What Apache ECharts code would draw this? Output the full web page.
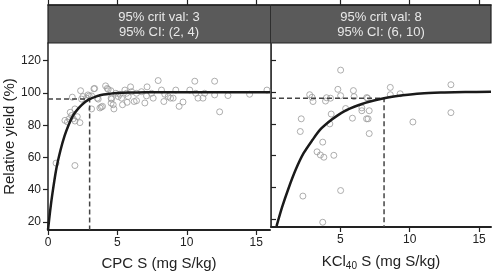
<!DOCTYPE html>
<html>
<head>
<meta charset="utf-8">
<script src="https://cdn.jsdelivr.net/npm/echarts@6/dist/echarts.min.js"></script>
<style>
  html, body { margin: 0; padding: 0; background: #fff; }
  #chart { width: 500px; height: 276px; }
</style>
</head>
<body>
<div id="chart"></div>
<script>
// ---- data ----
const panelTitles = ["95% crit val: 3\n95% CI: (2, 4)", "95% crit val: 8\n95% CI: (6, 10)"];
const yTicks = [20, 40, 60, 80, 100, 120];
const xTicksLeft = [0, 5, 10, 15];
const xTicksRight = [5, 10, 15];

// critical values (x) and the relative yield level they refer to
const critX = [3, 8.15];
const critY = [96.2, 96.2];

// CPC S observations
const cpcX = [0.58, 1.94, 1.22, 1.53, 1.70, 1.82, 1.94, 2.11, 1.94, 2.30, 1.40, 1.60,
  1.75, 2.35, 2.42, 2.52, 2.78, 2.88, 2.97, 3.14, 3.31, 3.14, 3.36, 3.55, 3.62, 3.74,
  3.84, 3.93, 4.15, 4.27, 4.34, 4.53, 4.55, 4.58, 4.55, 4.70, 4.75, 4.89, 5.06, 5.18,
  5.30, 5.37, 5.54, 5.66, 5.70, 5.78, 5.95, 6.02, 6.21, 6.38, 6.38, 6.74, 6.98, 7.14,
  7.10, 7.46, 7.58, 7.94, 8.18, 8.35, 8.42, 8.66, 8.83, 9.02, 9.21, 9.45, 9.73, 10.22,
  10.58, 10.65, 10.81, 11.17, 11.29, 12.01, 12.01, 12.37, 12.97, 14.53, 15.78];
const cpcY = [56.5, 55, 83, 84, 86, 84, 82.6, 85.3, 90.1, 81.6, 82, 88,
  97.4, 101.4, 96.2, 97.8, 96.8, 98.8, 98.2, 98.2, 102.6, 90.1, 102.8, 96.8, 96.2, 90.7,
  91.3, 91.7, 104.4, 102.8, 102.2, 101.4, 96.8, 96.2, 93.7, 92.7, 90.1, 99.8, 97.8, 99.2,
  96.8, 92.7, 101.8, 99.8, 94.2, 97.8, 103.8, 100.8, 94.7, 95.2, 99.8, 100.8, 93.8, 103.8,
  98.2, 99.8, 96.8, 107.7, 101.8, 94.7, 99.2, 97.8, 96.8, 96.8, 101.8, 91.7, 94.4, 101.8,
  107.3, 99.8, 96.8, 96.8, 99.8, 107.3, 98.8, 88.3, 98.4, 99.2, 101.8];

// KCl40 S observations
const kclX = [5.02, 2.79, 2.96, 3.03, 3.93, 4.29, 4.82, 5.02, 5.94, 5.99, 6.96, 8.60,
  8.60, 9.31, 12.97, 12.97, 10.23, 2.18, 2.11, 4.34, 5.38, 5.87, 6.55, 6.55, 7.08, 6.89,
  7.00, 7.08, 4.24, 3.73, 3.32, 3.56, 3.81, 4.53, 5.02, 2.30, 3.73, 4.00, 6.90];
const kclY = [113.9, 98.4, 96.8, 94.1, 94.4, 96.2, 101.8, 97.8, 101.0, 97.2, 96.2, 103.0,
  98.4, 99.0, 104.7, 87.1, 81.2, 83.2, 75.2, 86.2, 89.7, 83.6, 90.1, 88.3, 88.3, 83.2,
  83.2, 73.9, 80, 68.5, 62.4, 60.4, 59, 60.2, 38, 34.5, 18, 96.5, 96.6];

// fitted response curves
const cpcFitX = [0, 0.15, 0.3, 0.6, 0.9, 1.2, 1.5, 1.8, 2.1, 2.4, 2.7, 3.0, 3.5, 4.0,
  4.5, 5.0, 6.0, 7.0, 9.0, 12.0, 16.0];
const cpcFitY = [15, 26.5, 36.5, 53, 64.5, 73.5, 80.5, 86, 89.5, 92.3, 94.5, 96.2, 97.9,
  99, 99.6, 100, 100.3, 100.5, 100.5, 100.5, 100.5];
const kclFitX = [0.4, 0.8, 1.26, 1.8, 2.35, 3.0, 3.56, 4.2, 4.78, 5.4, 6.0, 7.0, 8.15,
  9.5, 10.8, 12.5, 14.0, 15.86];
const kclFitY = [15.5, 27.5, 39.3, 51.5, 61.5, 70, 76.5, 81.5, 85.2, 88.5, 90.8, 93.8,
  96.2, 98, 99.2, 99.8, 100.1, 100.2];

const zip = (xs, ys) => xs.map((x, i) => [x, ys[i]]);
const Y_MIN = 15, Y_MAX = 131;
const FONT = "Liberation Sans, Arial, Helvetica, sans-serif";
const dark = "#222";

function bottomAxis(gi, ticks, max, name) {
    return {
        gridIndex: gi, type: "value", min: 0, max: max, position: "bottom",
        name: name, nameLocation: "middle", nameGap: 26,
        nameTextStyle: {
            fontSize: 15, color: dark, fontFamily: FONT,
            rich: { sub: { fontSize: 10, color: dark, fontFamily: FONT, verticalAlign: "bottom", padding: [8, 0, 0, 0] } },
        },
        axisLine: { show: true, lineStyle: { color: dark, width: 2 } },
        axisTick: { show: true, length: 5, lineStyle: { color: dark, width: 1.2 }, customValues: ticks },
        axisLabel: { fontSize: 12, color: dark, fontFamily: FONT, margin: 7, customValues: ticks },
        splitLine: { show: false },
    };
}

function topAxis(gi, ticks, max) {
    return {
        gridIndex: gi, type: "value", min: 0, max: max, position: "top", offset: 38,
        axisLine: { show: true, lineStyle: { color: dark, width: 1.5 } },
        axisTick: { show: true, length: 5, lineStyle: { color: dark, width: 1.2 }, customValues: ticks },
        axisLabel: { show: false },
        splitLine: { show: false },
    };
}

const chart = echarts.init(document.getElementById("chart"));
chart.setOption({
    animation: false,
    grid: [
        { left: 48, top: 43, width: 222, height: 190 },
        { left: 271, top: 43, width: 220, height: 190 },
    ],
    xAxis: [
        bottomAxis(0, xTicksLeft, 16, "CPC S (mg S/kg)"),
        bottomAxis(1, xTicksRight, 15.86, "KCl{sub|40} S (mg S/kg)"),
        topAxis(0, xTicksLeft, 16),
        topAxis(1, xTicksRight, 15.86),
    ],
    yAxis: [
        {
            gridIndex: 0, type: "value", min: Y_MIN, max: Y_MAX, position: "left",
            name: "Relative yield (%)", nameLocation: "middle", nameGap: 30,
            nameTextStyle: { fontSize: 15, color: dark, fontFamily: FONT },
            axisLine: { show: true, lineStyle: { color: dark, width: 1.5 } },
            axisTick: { show: true, length: 5, lineStyle: { color: dark, width: 1.2 }, customValues: yTicks },
            axisLabel: { fontSize: 12, color: dark, fontFamily: FONT, margin: 7, customValues: yTicks },
            splitLine: { show: false },
        },
        {
            gridIndex: 1, type: "value", min: Y_MIN, max: Y_MAX, position: "left",
            axisLine: { show: true, lineStyle: { color: "#888", width: 1 } },
            axisTick: { show: false }, axisLabel: { show: false }, splitLine: { show: false },
        },
        {
            gridIndex: 1, type: "value", min: Y_MIN, max: Y_MAX, position: "right",
            axisLine: { show: true, lineStyle: { color: dark, width: 1.5 } },
            axisTick: { show: true, length: 5, lineStyle: { color: dark, width: 1.2 }, customValues: yTicks },
            axisLabel: { show: false }, splitLine: { show: false },
        },
    ],
    graphic: [
        { type: "rect", shape: { x: 48, y: 5, width: 443, height: 38 },
          style: { fill: "#5a5a5a", stroke: dark, lineWidth: 1.2 } },
        { type: "line", shape: { x1: 270.5, y1: 5, x2: 270.5, y2: 43 },
          style: { stroke: "#2e2e2e", lineWidth: 1 } },
        { type: "text", x: 159, y: 25,
          style: { text: panelTitles[0], fill: "#e8e8e8", font: "13px " + FONT, align: "center", verticalAlign: "middle", lineHeight: 15 } },
        { type: "text", x: 381, y: 25,
          style: { text: panelTitles[1], fill: "#e8e8e8", font: "13px " + FONT, align: "center", verticalAlign: "middle", lineHeight: 15 } },
    ],
    series: [
        {
            type: "scatter", xAxisIndex: 0, yAxisIndex: 0, data: zip(cpcX, cpcY),
            symbol: "circle", symbolSize: 6,
            itemStyle: { color: "rgba(0,0,0,0)", borderColor: "#9a9a9a", borderWidth: 1 },
        },
        {
            type: "scatter", xAxisIndex: 1, yAxisIndex: 1, data: zip(kclX, kclY),
            symbol: "circle", symbolSize: 6,
            itemStyle: { color: "rgba(0,0,0,0)", borderColor: "#9a9a9a", borderWidth: 1 },
        },
        {
            type: "line", xAxisIndex: 0, yAxisIndex: 0, showSymbol: false,
            data: [[0, critY[0]], [critX[0], critY[0]], [critX[0], Y_MIN]],
            lineStyle: { color: "#444", width: 1.5, type: [5, 3] },
        },
        {
            type: "line", xAxisIndex: 1, yAxisIndex: 1, showSymbol: false,
            data: [[0, critY[1]], [critX[1], critY[1]], [critX[1], Y_MIN]],
            lineStyle: { color: "#444", width: 1.5, type: [5, 3] },
        },
        {
            type: "line", xAxisIndex: 0, yAxisIndex: 0, showSymbol: false, smooth: 0.3,
            data: zip(cpcFitX, cpcFitY),
            lineStyle: { color: "#1a1a1a", width: 2.5 },
        },
        {
            type: "line", xAxisIndex: 1, yAxisIndex: 1, showSymbol: false, smooth: 0.3,
            data: zip(kclFitX, kclFitY),
            lineStyle: { color: "#1a1a1a", width: 2.5 },
        },
    ],
});
</script>
</body>
</html>
